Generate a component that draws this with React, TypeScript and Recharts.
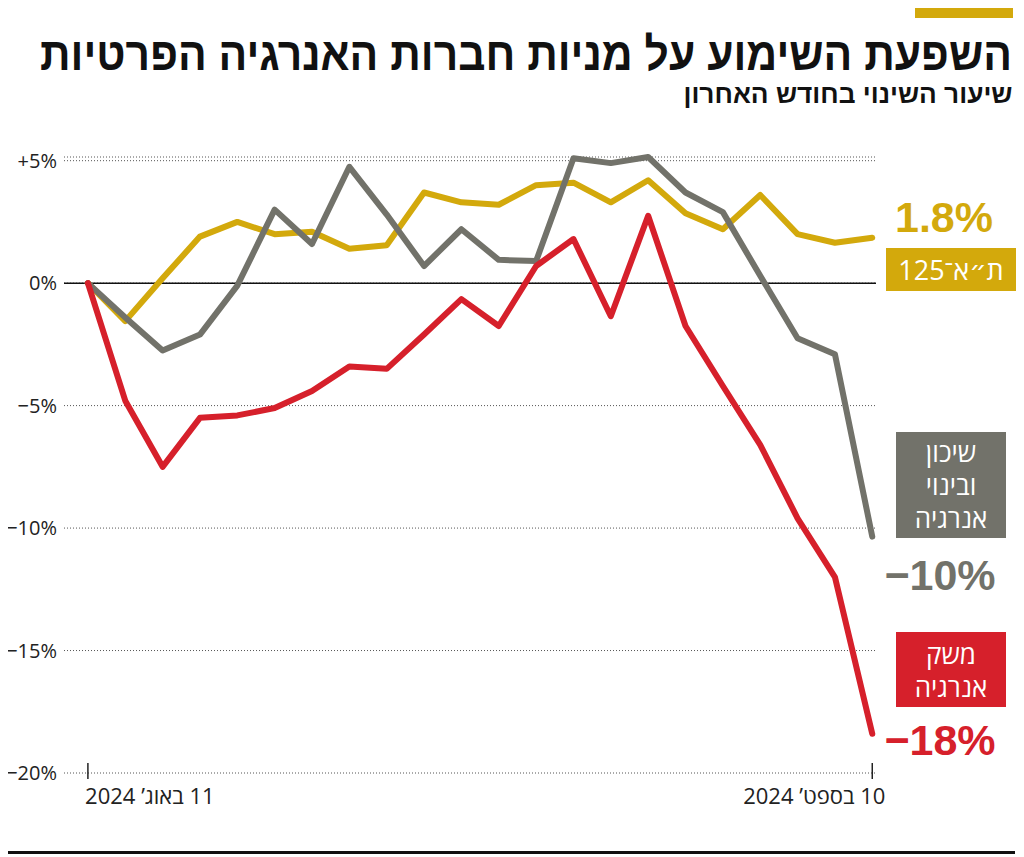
import { LineChart, Line, XAxis, YAxis, CartesianGrid, ReferenceLine } from 'recharts';

// trading days from 11 Aug 2024 to 10 Sep 2024, % change vs. start
const dayIndex = [0, 1, 2, 3, 4, 5, 6, 7, 8, 9, 10, 11, 12, 13, 14, 15, 16, 17, 18, 19, 20, 21];
const ta125 = [0, -1.55, 0.2, 1.9, 2.5, 2.0, 2.1, 1.4, 1.55, 3.7, 3.3, 3.2, 4.0, 4.1, 3.3, 4.2, 2.85, 2.2, 3.6, 2.0, 1.65, 1.85];
const shikun = [0, -1.4, -2.75, -2.1, -0.1, 3.0, 1.6, 4.75, 2.8, 0.7, 2.2, 0.95, 0.9, 5.1, 4.9, 5.15, 3.7, 2.9, 0.3, -2.25, -2.9, -10.35];
const meshek = [0, -4.8, -7.5, -5.5, -5.4, -5.1, -4.4, -3.4, -3.5, -2.1, -0.65, -1.75, 0.7, 1.8, -1.35, 2.75, -1.75, -4.2, -6.6, -9.6, -12.0, -18.4];

const yTicks = [5, 0, -5, -10, -15, -20];
const xTicks = [0, 21];
const xTickLabels = ['11 באוג’ 2024', '10 בספט’ 2024'];

const GOLD = '#d3a90c';
const GRAY = '#72726a';
const RED = '#d6202b';

const REG = "'Open Sans', 'DejaVu Sans', sans-serif";
const BOLD = "'Liberation Sans Narrow', 'Liberation Sans', 'DejaVu Sans', sans-serif";

const rows = dayIndex.map((i) => ({ i, ta125: ta125[i], shikun: shikun[i], meshek: meshek[i] }));

const fmtY = (v: number) => (v > 0 ? `+${v}%` : v < 0 ? `−${Math.abs(v)}%` : '0%');

function YTick({ x, y, payload }: any) {
  return (
    <text x={x} y={y} dy={7} textAnchor="end" fontSize={20} fill="#222" fontFamily={REG}>
      {fmtY(payload.value)}
    </text>
  );
}

function XTick({ x, y, payload, index }: any) {
  const label = xTickLabels[xTicks.indexOf(payload.value)];
  const shift = index === 0 ? 62 : -58;
  return (
    <g>
      <line x1={x} x2={x} y1={y - 10} y2={y + 6} stroke="#222" strokeWidth={1.5} />
      <text x={x + shift} y={y + 31} textAnchor="middle" direction="rtl" fontSize={22} fill="#222" fontFamily={REG}>
        {label}
      </text>
    </g>
  );
}

export default function App() {
  return (
    <div style={{ position: 'relative', width: 1024, height: 857, marginLeft: -8, marginTop: -8, background: '#fff' }}>
      <div style={{ position: 'absolute', left: 0, top: 0 }}>
        <LineChart width={1024} height={857} data={rows} margin={{ top: 157, right: 148, bottom: 44, left: 0 }}>
          <CartesianGrid vertical={false} stroke="#555" strokeDasharray="1 2" />
          <XAxis
            dataKey="i"
            type="number"
            domain={[-0.64, 21.1]}
            ticks={xTicks}
            allowDataOverflow
            axisLine={false}
            tickLine={false}
            tickSize={0}
            tickMargin={0}
            height={40}
            tick={<XTick />}
          />
          <YAxis
            type="number"
            domain={[-20, 5]}
            ticks={yTicks}
            width={64}
            axisLine={false}
            tickLine={false}
            tickMargin={1}
            tick={<YTick />}
          />
          <ReferenceLine y={0} stroke="#111" strokeWidth={1.5} />
          <Line type="linear" dataKey="ta125" stroke={GOLD} strokeWidth={6} dot={false} strokeLinejoin="round" strokeLinecap="round" isAnimationActive={false} />
          <Line type="linear" dataKey="shikun" stroke={GRAY} strokeWidth={6} dot={false} strokeLinejoin="round" strokeLinecap="round" isAnimationActive={false} />
          <Line type="linear" dataKey="meshek" stroke={RED} strokeWidth={6} dot={false} strokeLinejoin="round" strokeLinecap="round" isAnimationActive={false} />
        </LineChart>
      </div>

      <svg width={1024} height={857} style={{ position: 'absolute', left: 0, top: 0, pointerEvents: 'none' }}>
        <rect x={915} y={4} width={98} height={14} fill={GOLD} />
        <text x={526} y={70} textAnchor="middle" direction="rtl" fontSize={46} fontWeight="bold" fill="#111" fontFamily={BOLD} textLength={972} lengthAdjust="spacingAndGlyphs">
          השפעת השימוע על מניות חברות האנרגיה הפרטיות
        </text>
        <text x={848} y={103} textAnchor="middle" direction="rtl" fontSize={26} fontWeight="bold" fill="#111" fontFamily={BOLD} textLength={329} lengthAdjust="spacingAndGlyphs">
          שיעור השינוי בחודש האחרון
        </text>

        <text x={944} y={232} textAnchor="middle" fontSize={43} fontWeight="bold" fill={GOLD} fontFamily={BOLD}>1.8%</text>
        <rect x={886} y={248} width={130} height={43} fill={GOLD} />
        <text x={951} y={280} textAnchor="middle" direction="rtl" fontSize={27} fill="#fff" fontFamily={REG}>ת״א־125</text>

        <rect x={896} y={432} width={110} height={106} fill={GRAY} />
        <text x={951} y={462} textAnchor="middle" direction="rtl" fontSize={26} fill="#fff" fontFamily={REG}>שיכון</text>
        <text x={951} y={495} textAnchor="middle" direction="rtl" fontSize={26} fill="#fff" fontFamily={REG}>ובינוי</text>
        <text x={951} y={528} textAnchor="middle" direction="rtl" fontSize={26} fill="#fff" fontFamily={REG}>אנרגיה</text>
        <text x={940} y={590} textAnchor="middle" fontSize={43} fontWeight="bold" fill={GRAY} fontFamily={BOLD}>−10%</text>

        <rect x={896} y={632} width={110} height={75} fill={RED} />
        <text x={951} y={664} textAnchor="middle" direction="rtl" fontSize={26} fill="#fff" fontFamily={REG}>משק</text>
        <text x={951} y={697} textAnchor="middle" direction="rtl" fontSize={26} fill="#fff" fontFamily={REG}>אנרגיה</text>
        <text x={940} y={755} textAnchor="middle" fontSize={43} fontWeight="bold" fill={RED} fontFamily={BOLD}>−18%</text>

        <rect x={5} y={851} width={1010} height={3} fill="#111" />
      </svg>
    </div>
  );
}
